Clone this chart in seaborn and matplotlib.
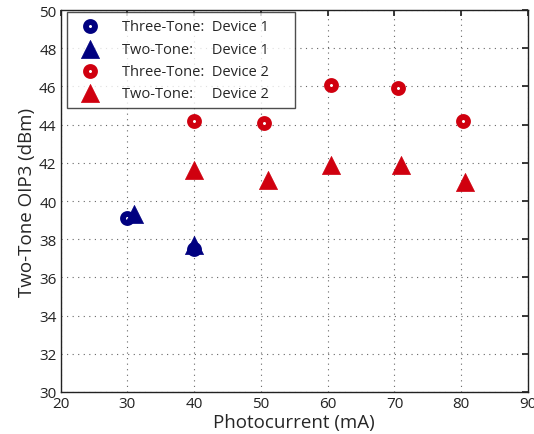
import matplotlib
matplotlib.use("Agg")
import matplotlib.pyplot as plt
import numpy as np
import pandas as pd
import seaborn as sns

sns.set_theme(style="white")
plt.rcParams["font.family"] = ["Open Sans", "DejaVu Sans"]

# 데이터
three_d1_x = [30.0, 40.0]
three_d1_y = [39.1, 37.5]
two_d1_x = [31.0, 40.0]
two_d1_y = [39.3, 37.7]
three_d2_x = [40.0, 50.5, 60.5, 70.5, 80.3]
three_d2_y = [44.2, 44.1, 46.1, 45.9, 44.2]
two_d2_x = [40.0, 51.0, 60.5, 71.0, 80.5]
two_d2_y = [41.6, 41.1, 41.9, 41.9, 41.0]

NAVY = "#000080"
RED = "#D0000F"

series = [
    (three_d1_x, three_d1_y, "o", NAVY, "Three-Tone:  Device 1     "),
    (two_d1_x, two_d1_y, "^", NAVY, "Two-Tone:     Device 1     "),
    (three_d2_x, three_d2_y, "o", RED, "Three-Tone:  Device 2     "),
    (two_d2_x, two_d2_y, "^", RED, "Two-Tone:     Device 2     "),
]

fig = plt.figure(figsize=(5.34, 4.35), dpi=100)
ax = fig.add_axes([0.1137, 0.0966, 0.875, 0.878])

for xs, ys, mk, col, lab in series:
    df = pd.DataFrame({"x": xs, "y": ys})
    if mk == "o":
        sns.scatterplot(data=df, x="x", y="y", ax=ax, marker="o", s=42,
                        facecolor="white", edgecolor=col, linewidth=4.2,
                        label=lab, zorder=3)
    else:
        sns.scatterplot(data=df, x="x", y="y", ax=ax, marker="^", s=170,
                        color=col, edgecolor=col, linewidth=0.5,
                        label=lab, zorder=3)

ax.set_xlim(20, 90)
ax.set_ylim(30, 50)
ax.set_xticks(np.arange(20, 91, 10))
ax.set_yticks(np.arange(30, 51, 2))
ax.grid(True, linestyle=(0, (1, 4)), color="#666666", linewidth=0.8)
ax.tick_params(direction="in", length=4, top=True, right=True,
               labelsize=11, colors="#222222", pad=3)
for sp in ax.spines.values():
    sp.set_color("#222222")
    sp.set_linewidth(1.0)

ax.set_xlabel("Photocurrent (mA)", fontsize=13.5, labelpad=1)
ax.set_ylabel("Two-Tone OIP3 (dBm)", fontsize=13.5, labelpad=2)

leg = ax.legend(loc="upper left", bbox_to_anchor=(0.013, 0.995), fontsize=10.5,
                frameon=True, fancybox=False, edgecolor="#222222",
                handlelength=2.2, handletextpad=1.1, labelspacing=0.5,
                borderpad=0.5, borderaxespad=0.0)
leg.get_frame().set_linewidth(1.0)

fig.savefig("out.png", dpi=100)
